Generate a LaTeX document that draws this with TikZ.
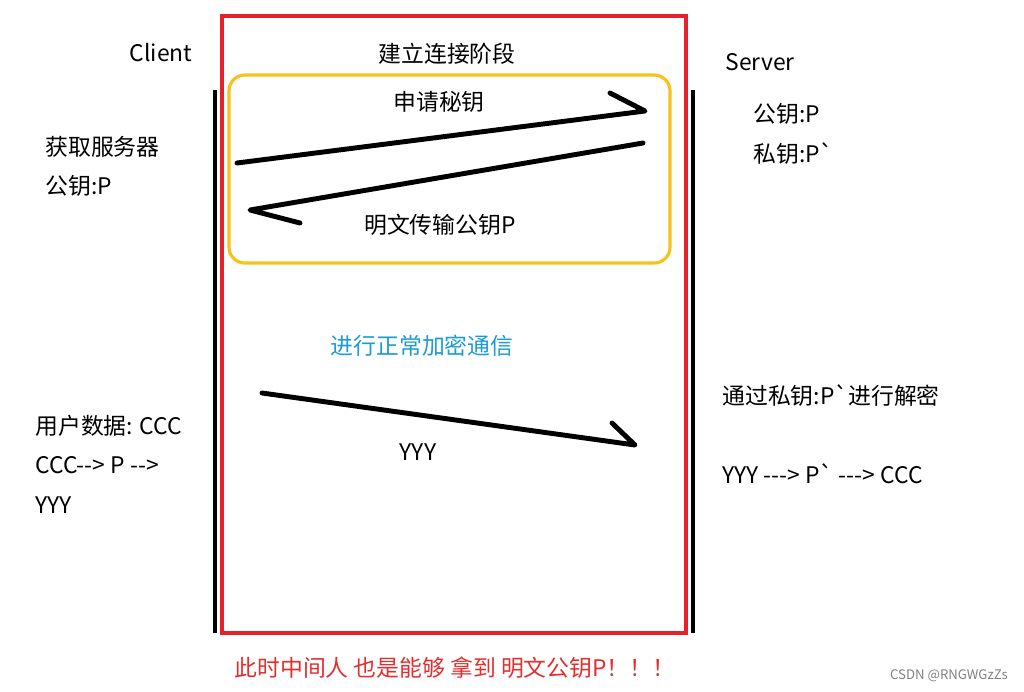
\documentclass[tikz,border=0pt]{standalone}
\usepackage{fontspec}
\setmainfont{Noto Sans CJK SC}[Ligatures=TeXOff]
\usetikzlibrary{positioning}
\usepackage{xcolor}
\definecolor{frameRed}{HTML}{E5222A}
\definecolor{phaseYellow}{HTML}{F8C21C}
\definecolor{noteBlue}{HTML}{1A9BD7}
\definecolor{warnRed}{HTML}{E52D2D}
\tikzset{
    font=\fontsize{13}{22.5}\selectfont,
    % Frames
    frame/.style={draw=frameRed, line width=1.8pt},
    phase/.style={draw=phaseYellow, line width=1.8pt, rounded corners=9pt},
    lifeline/.style={line width=2.6pt, black},
    % Hand drawn messages
    msg/.style={line width=2.8pt, black, line cap=round, line join=round},
    % Labels
    lbl/.style={inner sep=0pt, align=left},
    note/.style={lbl, anchor=west}
}
\begin{document}
\begin{tikzpicture}[x=0.02cm, y=-0.02cm]
\useasboundingbox (0,0) rectangle (1024,691);

% frames
\draw[frame] (222,16) rectangle (686,633);
\draw[phase] (229,75) rectangle (670,263);

% lifelines
\coordinate (clientTop) at (215,90);
\coordinate (clientBot) at (215,633);
\coordinate (serverTop) at (693,90);
\coordinate (serverBot) at (693,633);
\draw[lifeline] (clientTop) -- (clientBot);
\draw[lifeline] (serverTop) -- (serverBot);

% titles
\node[lbl] (client) at (161,53) {Client};
\node[lbl] (stage) at (447,54) {建立连接阶段};
\node[lbl] (server) at (760,62) {Server};

% handshake
\node[lbl] (askKey) at (439,102) {申请秘钥};
\node[lbl] (sendKey) at (440,225) {明文传输公钥P};
\coordinate (req0) at (237,163);
\coordinate (req1) at (645,111);
\coordinate (reqBarb) at (610,93);
\coordinate (ans0) at (643,143);
\coordinate (ans1) at (250,210);
\coordinate (ansBarb) at (300,223);
\draw[msg] (req0) -- (req1) -- (reqBarb);
\draw[msg] (ans0) -- (ans1) -- (ansBarb);

% side notes
\node[note] (clientKey) at (45,166.5) {获取服务器\\公钥:P};
\node[note] (serverKeys) at (753,134) {公钥:P\\私钥:P\symbol{96}};

% normal traffic
\node[lbl, text=noteBlue] (normal) at (422,346) {进行正常加密通信};
\coordinate (data0) at (262,393);
\coordinate (data1) at (635,445);
\coordinate (dataBarb) at (612,423);
\draw[msg] (data0) -- (data1) -- (dataBarb);
\node[lbl] (cipher) at (418,452) {YYY};

\node[note] (userData) at (35,464) {用户数据: CCC\\CCC--> P -->\\YYY};
\node[note] (decrypt) at (722,395) {通过私钥:P\symbol{96}进行解密};
\node[note] (decryptFlow) at (722,474) {YYY ---> P\symbol{96} ---> CCC};

% warning
\node[lbl, text=warnRed] (warn) at (455,668) {此时中间人 也是能够 拿到 明文公钥P！！！};
\node[lbl, text=gray, font=\fontsize{7.5}{9}\selectfont] (mark) at (949,676) {CSDN @RNGWGzZs};
\end{tikzpicture}
\end{document}
